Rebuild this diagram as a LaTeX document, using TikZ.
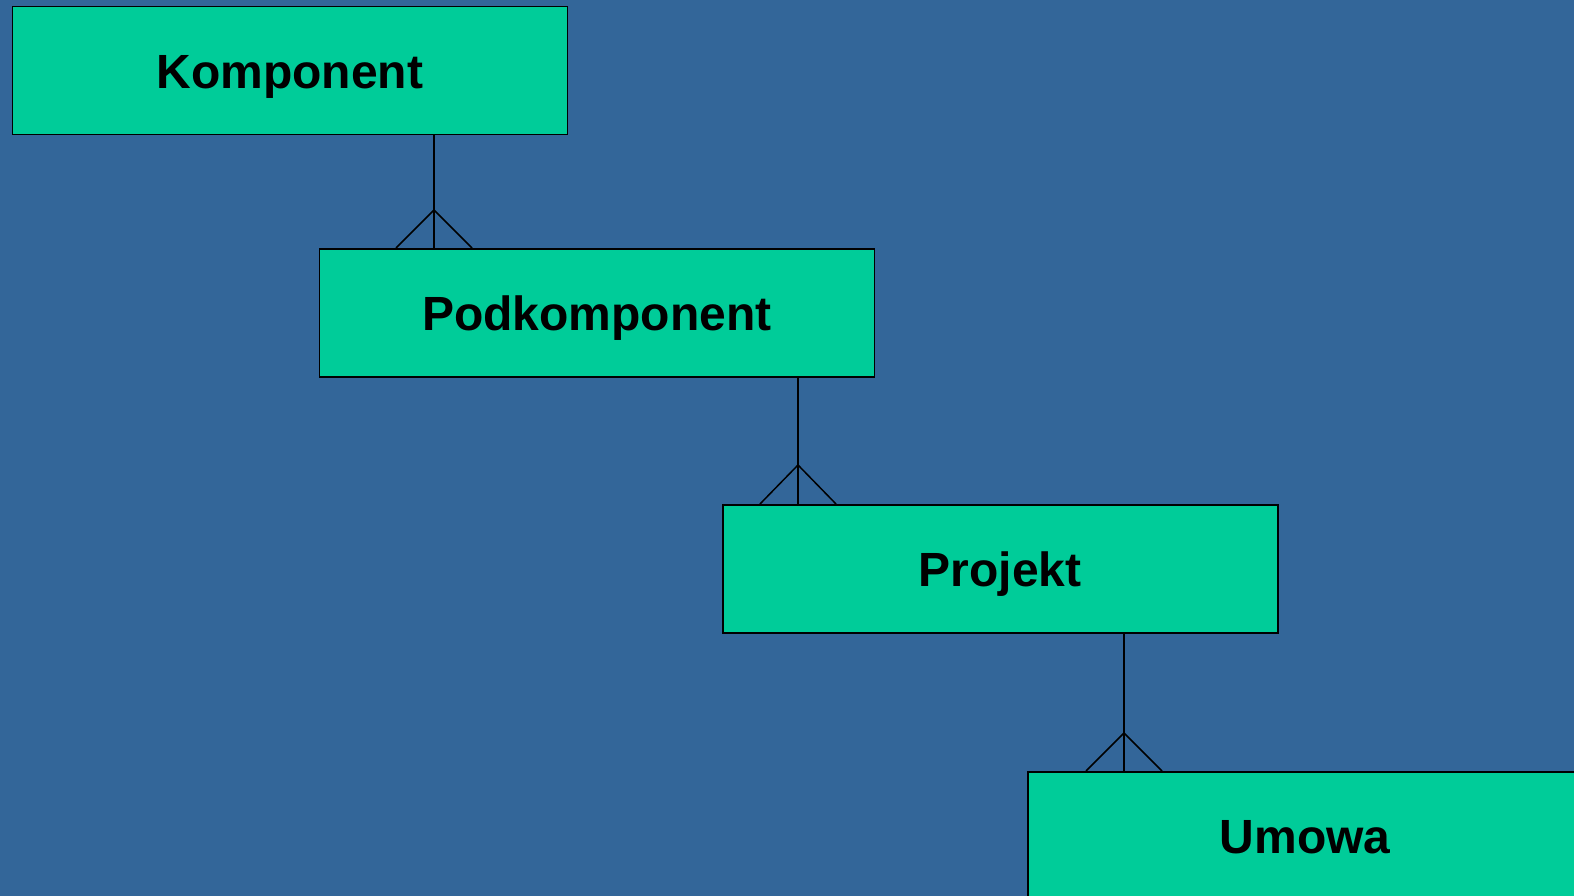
\documentclass[tikz,border=0pt]{standalone}
\usepackage{fontspec}
\setmainfont{Liberation Sans}
\begin{document}
\begin{tikzpicture}[x=1pt,y=-1pt,
  entity/.style={draw=black,line width=1.5pt,fill={rgb,255:red,0;green,204;blue,153},
    minimum width=555pt,minimum height=128pt,inner sep=0pt,anchor=north west,
    text height=35pt,text depth=0pt,
    font=\fontsize{48}{56}\selectfont\bfseries},
  conn/.style={draw=black,line width=1.5pt}]
\definecolor{bg}{RGB}{51,102,153}
\useasboundingbox (0,0) rectangle (1574,896);
\clip (0,0) rectangle (1574,896);
\fill[bg] (0,0) rectangle (1574,896);
\node[entity] (k) at (11.5,6) {Komponent};
\node[entity] (p) at (318.5,248) {Podkomponent};
\node[entity] (pr) at (722,504) {Projekt};
\node[entity] (u) at (1027,771) {Umowa};
% connectors with crow's feet
\coordinate (a1) at (434,210);
\coordinate (a2) at (798,465);
\coordinate (a3) at (1124,733);
\draw[conn] (k.south -| a1) -- (p.north -| a1);
\draw[conn] ([xshift=-38pt]p.north -| a1) -- (a1) -- ([xshift=38pt]p.north -| a1);
\draw[conn] (p.south -| a2) -- (pr.north -| a2);
\draw[conn] ([xshift=-38pt]pr.north -| a2) -- (a2) -- ([xshift=38pt]pr.north -| a2);
\draw[conn] (pr.south -| a3) -- (u.north -| a3);
\draw[conn] ([xshift=-38pt]u.north -| a3) -- (a3) -- ([xshift=38pt]u.north -| a3);
\end{tikzpicture}
\end{document}
